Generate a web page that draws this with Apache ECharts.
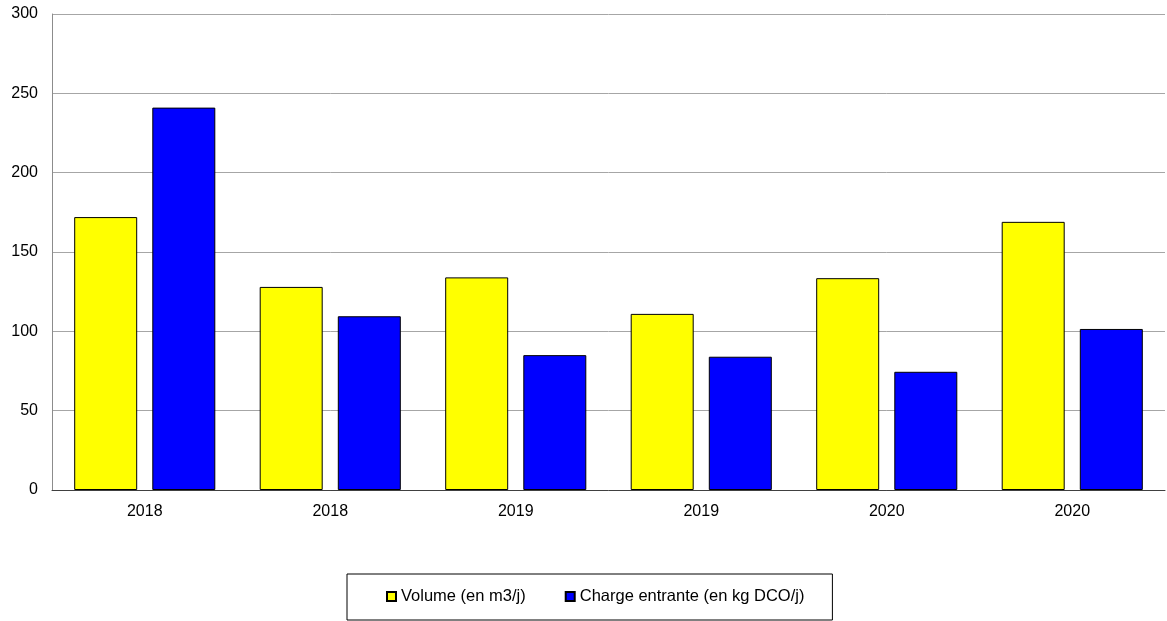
<!DOCTYPE html>
<html>
<head>
<meta charset="utf-8">
<script src="https://cdn.jsdelivr.net/npm/echarts@6/dist/echarts.min.js"></script>
<style>
  html, body { margin: 0; padding: 0; background: #fff; }
  #main { width: 1167px; height: 621px; }
</style>
</head>
<body>
<div id="main"></div>
<script>
const years = ['2018', '2018', '2019', '2019', '2020', '2020'];
const volume = [172, 128, 134, 111, 133.5, 169];
const charge = [241, 109.5, 85, 84, 74.5, 101.5];
const yTicks = [0, 50, 100, 150, 200, 250, 300];

const _font = 'Liberation Sans, Arial, sans-serif';

var dom = document.getElementById('main');
var myChart = echarts.init(dom, null, { renderer: 'canvas' });

var option = {
    animation: false,
    backgroundColor: '#fff',
    grid: { left: 52, right: 2, top: 14, bottom: 131, containLabel: false },
    legend: {
        left: 347,
        top: 574,
        orient: 'horizontal',
        padding: [14, 28, 15, 39],
        itemGap: 39,
        itemWidth: 9,
        itemHeight: 9,
        borderColor: '#000',
        borderWidth: 1,
        icon: 'rect',
        textStyle: { fontFamily: _font, fontSize: 16.5, color: '#000' },
        data: ['Volume (en m3/j)', 'Charge entrante (en kg DCO/j)']
    },
    xAxis: {
        type: 'category',
        data: years,
        axisLine: { lineStyle: { color: '#404040', width: 1 } },
        axisTick: { show: false },
        axisLabel: { fontFamily: _font, fontSize: 16, color: '#000', margin: 14 }
    },
    yAxis: {
        type: 'value',
        min: yTicks[0],
        max: yTicks[yTicks.length - 1],
        interval: 50,
        axisLine: { show: true, lineStyle: { color: '#8c8c8c' } },
        axisTick: { show: false },
        axisLabel: { fontFamily: _font, fontSize: 16, color: '#000', margin: 14 },
        splitLine: { lineStyle: { color: '#a6a6a6', width: 1 } }
    },
    series: [
        {
            name: 'Volume (en m3/j)',
            type: 'bar',
            data: volume,
            barWidth: 63,
            barGap: '24%',
            itemStyle: { color: '#ffff00', borderColor: '#000', borderWidth: 1 }
        },
        {
            name: 'Charge entrante (en kg DCO/j)',
            type: 'bar',
            data: charge,
            barWidth: 63,
            itemStyle: { color: '#0000ff', borderColor: '#000', borderWidth: 1 }
        }
    ]
};

myChart.setOption(option);
window.addEventListener('resize', myChart.resize);
</script>
</body>
</html>
